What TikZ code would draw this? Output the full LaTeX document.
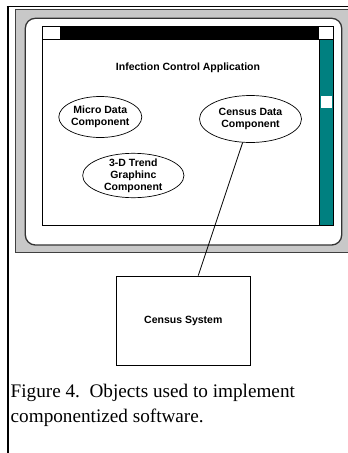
\documentclass[tikz,border=0pt]{standalone}
\usepackage{fontspec}
\setmainfont{Liberation Serif}
\newfontfamily\arialfont{Liberation Sans}
\usetikzlibrary{shapes.geometric}
\definecolor{framegray}{HTML}{C8C8C8}
\definecolor{scrollteal}{HTML}{008080}
\tikzset{
  comp/.style={draw, ellipse, line width=0.7pt, inner xsep=-30pt, inner ysep=-30pt,
    align=center, font=\arialfont\bfseries\fontsize{10.5}{12.2}\selectfont},
  lbl/.style={font=\arialfont\bfseries\fontsize{10.5}{12.2}\selectfont, inner sep=0pt},
  sysbox/.style={draw, line width=0.8pt, inner sep=0pt},
  link/.style={line width=0.8pt},
}
\begin{document}
\begin{tikzpicture}[x=1pt,y=-1pt]
\useasboundingbox (0,0) rectangle (348,453);
% page borders
\draw[line width=2pt] (7.7,5.8) -- (7.7,453);
\draw[line width=1.4pt] (6.7,6.5) -- (348,6.5);
% gray outer frame
\fill[framegray] (15.5,9.3) rectangle (348,252.3);
\draw[line width=1.2pt, black!75] (350,9.3) -- (15.5,9.3) -- (15.5,252.3) -- (350,252.3);
% inner white rounded panel
\draw[line width=1.3pt, black!80, fill=white, rounded corners=10pt] (25.3,18.3) rectangle (341.7,245);
% window
\draw[line width=0.8pt, fill=white] (42.7,26.7) rectangle (333,225.7);
\fill[black] (60.7,26.7) rectangle (318.5,39.3);
\draw[line width=0.8pt] (42.7,26.7) rectangle (60.7,39.3);
\draw[line width=0.8pt] (318.5,26.7) rectangle (333,39.3);
\draw[line width=0.8pt] (42.7,39.3) -- (333,39.3);
% scroll bar
\draw[line width=0.8pt, fill=scrollteal] (319.3,39.3) rectangle (333,225.7);
\fill[white] (321,96) rectangle (331.7,108.3);
% title
\node[lbl] (title) at (188,67.7) {Infection Control Application};
% components
\node[comp, minimum width=83pt, minimum height=41pt] (micro) at (100.3,117) {Micro Data\\Component};
\node[comp, minimum width=102pt, minimum height=47pt] (cd) at (250.5,119) {Census Data\\Component};
\node[comp, minimum width=101.3pt, minimum height=44.4pt] (trend) at (133.3,175.5) {3-D Trend\\Graphinc\\Component};
% census system
\node[sysbox, minimum width=133.3pt, minimum height=89pt] (cs) at (183.3,320.5) {};
\node[lbl] (cslabel) at (183.3,320.7) {Census System};
\draw[link] (cd) -- (cs);
% caption
\node[anchor=north west, inner sep=0pt, align=left, font=\fontsize{19.2}{25}\selectfont] (cap) at (10.5,383.5)
  {Figure 4.\ \ Objects used to implement\\componentized software.};
\end{tikzpicture}
\end{document}
